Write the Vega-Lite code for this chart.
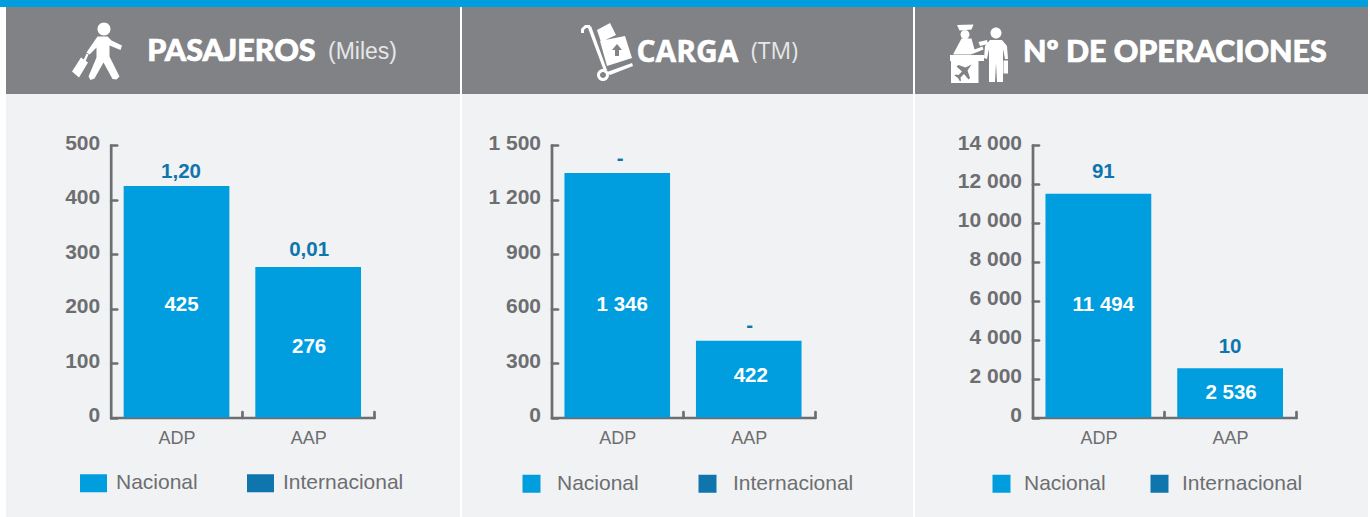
{"$schema":"https://vega.github.io/schema/vega-lite/v6.json","padding":0,"background":"#ffffff","config":{"view":{"stroke":null},"concat":{"spacing":0},"text":{"font":"Liberation Sans"},"axis":{"domainColor":"#6d6e71","tickColor":"#6d6e71","domainWidth":2.7,"tickWidth":2.7,"domainCap":"round","tickCap":"round","labelFont":"Liberation Sans","labelColor":"#6d6e71","title":null,"grid":false}},"resolve":{"scale":{"color":"independent"},"legend":{"color":"independent"}},"vconcat":[{"width":1368,"height":7,"view":{"fill":"#009ddf","stroke":null},"data":{"values":[{}]},"mark":{"type":"rect","fill":"#009ddf"},"encoding":{}},{"spacing":2,"resolve":{"scale":{"color":"independent"},"legend":{"color":"independent"}},"hconcat":[{"width":4,"height":10,"data":{"values":[{}]},"mark":{"type":"rect","opacity":0},"encoding":{}},{"spacing":0,"resolve":{"scale":{"color":"independent"},"legend":{"color":"independent"}},"vconcat":[{"width":454,"height":87,"view":{"fill":"#818285","stroke":null},"data":{"values":[{"elemento":"icono"},{"elemento":"titulo","texto":"PASAJEROS"},{"elemento":"unidad","texto":"(Miles)"}]},"encoding":{"x":{"field":"elemento","type":"nominal","axis":null,"scale":{"type":"point","padding":0,"domain":["icono","titulo","unidad"],"range":[90.5,322]}}},"layer":[{"transform":[{"filter":"datum.elemento==='icono'"}],"mark":{"type":"point","filled":true,"opacity":1,"fill":"#ffffff","strokeWidth":0,"size":4,"shape":"M1,-21.5a6.5,6.5 0 1,1 13,0a6.5,6.5 0 1,1 -13,0ZM1,-14L11,-14L15,-10L25.5,-5L24,-0.5L13,-5L13,6L23,26L20,29L16,28.5L7,12L-2,28L-6,29.5L-8,26L0,7L0,-3L-7,4L-10,2ZM-10,3L-8,4L-12,13L-14,12ZM-24.5,21L-15.5,7L-8.5,12L-17.5,27Z"}},{"transform":[{"filter":"datum.elemento==='titulo'"}],"mark":{"type":"text","align":"left","baseline":"middle","font":"Lato","fontWeight":900,"fontSize":30.5,"color":"#ffffff","stroke":"#ffffff","strokeWidth":0.7,"dx":-65,"dy":1.5},"encoding":{"text":{"field":"texto"}}},{"transform":[{"filter":"datum.elemento==='unidad'"}],"mark":{"type":"text","align":"left","baseline":"middle","font":"Liberation Sans","fontSize":23,"color":"#e6e7e8","dy":1},"encoding":{"text":{"field":"texto"}}}]},{"width":454,"height":423,"view":{"fill":"#f1f2f4","stroke":null},"data":{"values":[{"puerto":"ADP","nacional":425,"internacional":1.2,"etNacional":"425","etInternacional":"1,20"},{"puerto":"AAP","nacional":276,"internacional":0.01,"etNacional":"276","etInternacional":"0,01"}]},"encoding":{"x":{"field":"puerto","type":"nominal","scale":{"domain":["ADP","AAP"],"range":[104.7,368],"paddingInner":0.197,"paddingOuter":0.0985},"axis":{"offset":-99.5,"labelAngle":0,"labelFontSize":18,"labelPadding":18,"labelOffset":-65.8,"tickBand":"center","tickOffset":65.8,"tickSize":-6}}},"resolve":{"scale":{"y":"independent"},"axis":{"y":"independent"}},"layer":[{"mark":{"type":"bar"},"encoding":{"y":{"field":"nacional","type":"quantitative","scale":{"domain":[0,500],"range":[323.5,51],"nice":false},"axis":{"offset":-104.7,"values":[0,100,200,300,400,500],"labelFontSize":21,"labelFontWeight":"bold","labelPadding":17,"labelOffset":-2,"tickSize":-6}},"color":{"datum":"Nacional","scale":{"domain":["Nacional","Internacional"],"range":["#009ddf","#0e76ad"]},"legend":{"title":null,"orient":"none","legendX":74,"legendY":375.5,"direction":"horizontal","padding":0,"symbolType":"M-1,-0.667H1V0.667H-1Z","symbolSize":729,"symbolStrokeWidth":0,"symbolOpacity":1,"labelFont":"Liberation Sans","labelFontSize":21,"labelColor":"#6d6e71","labelOffset":9,"columnPadding":49}}}},{"transform":[{"filter":"datum.puerto==='ADP'"}],"mark":{"type":"text","baseline":"middle","fontWeight":"bold","fontSize":20.5,"color":"#ffffff","dx":5,"dy":3.5},"encoding":{"text":{"field":"etNacional"},"y":{"field":"nacional","type":"quantitative","axis":null,"scale":{"domain":[0,1000],"range":[323.5,51],"nice":false}}}},{"transform":[{"filter":"datum.puerto==='AAP'"}],"mark":{"type":"text","baseline":"middle","fontWeight":"bold","fontSize":20.5,"color":"#ffffff","dx":1,"dy":5},"encoding":{"text":{"field":"etNacional"},"y":{"field":"nacional","type":"quantitative","axis":null,"scale":{"domain":[0,1000],"range":[323.5,51],"nice":false}}}},{"transform":[{"filter":"datum.puerto==='ADP'"}],"mark":{"type":"text","baseline":"middle","fontWeight":"bold","fontSize":20.5,"color":"#0e76ad","dx":4.5,"dy":-14},"encoding":{"text":{"field":"etInternacional"},"y":{"field":"nacional","type":"quantitative","axis":null,"scale":{"domain":[0,500],"range":[323.5,51],"nice":false}}}},{"transform":[{"filter":"datum.puerto==='AAP'"}],"mark":{"type":"text","baseline":"middle","fontWeight":"bold","fontSize":20.5,"color":"#0e76ad","dx":1,"dy":-17},"encoding":{"text":{"field":"etInternacional"},"y":{"field":"nacional","type":"quantitative","axis":null,"scale":{"domain":[0,500],"range":[323.5,51],"nice":false}}}}]}]},{"spacing":0,"resolve":{"scale":{"color":"independent"},"legend":{"color":"independent"}},"vconcat":[{"width":451,"height":87,"view":{"fill":"#818285","stroke":null},"data":{"values":[{"elemento":"icono"},{"elemento":"titulo","texto":"CARGA"},{"elemento":"unidad","texto":"(TM)"}]},"encoding":{"x":{"field":"elemento","type":"nominal","axis":null,"scale":{"type":"point","padding":0,"domain":["icono","titulo","unidad"],"range":[144,289]}}},"layer":[{"transform":[{"filter":"datum.elemento==='icono'"}],"mark":{"type":"point","filled":true,"opacity":1,"fill":"#ffffff","strokeWidth":0,"size":4,"shape":"M-25,-19L-25,-23L-21,-27L-16,-27L-16,-24L-20,-24L-22,-22L-22,-19ZM-18,-24L-15,-26L1,18L-2,19ZM1,20L26,11L27,14L4,23ZM-6,-11L19,-16L26,6L1,14ZM11,-8L6,-2L9,-2L9,4L13,4L13,-2L16,-2ZM-9,-22L4,-29L10,-17L-5,-10ZM-9,23a6,6 0 1,1 12,0a6,6 0 1,1 -12,0ZM-6,23a3,3 0 1,0 6,0a3,3 0 1,0 -6,0Z"},"encoding":{"yOffset":{"value":1.5}}},{"transform":[{"filter":"datum.elemento==='titulo'"}],"mark":{"type":"text","align":"left","baseline":"middle","font":"Open Sans","fontWeight":"bold","fontSize":30,"color":"#ffffff","stroke":"#ffffff","strokeWidth":0.5,"dy":2,"dx":-42},"encoding":{"text":{"field":"texto"}}},{"transform":[{"filter":"datum.elemento==='unidad'"}],"mark":{"type":"text","align":"left","baseline":"middle","font":"Open Sans","fontSize":23,"color":"#e6e7e8","dy":1},"encoding":{"text":{"field":"texto"}}}]},{"width":451,"height":423,"view":{"fill":"#f1f2f4","stroke":null},"data":{"values":[{"puerto":"ADP","nacional":1346,"etNacional":"1 346","etInternacional":"-"},{"puerto":"AAP","nacional":422,"etNacional":"422","etInternacional":"-"}]},"encoding":{"x":{"field":"puerto","type":"nominal","scale":{"domain":["ADP","AAP"],"range":[89.5,352.5],"paddingInner":0.197,"paddingOuter":0.0985},"axis":{"offset":-99.5,"labelAngle":0,"labelFontSize":18,"labelPadding":18,"labelOffset":-65.75,"tickBand":"center","tickOffset":65.75,"tickSize":-6}}},"resolve":{"scale":{"y":"independent"},"axis":{"y":"independent"}},"layer":[{"mark":{"type":"bar"},"encoding":{"y":{"field":"nacional","type":"quantitative","scale":{"domain":[0,1500],"range":[323.5,51],"nice":false},"axis":{"offset":-89.5,"values":[0,300,600,900,1200,1500],"labelExpr":"replace(format(datum.value,',d'),',',' ')","labelFontSize":21,"labelFontWeight":"bold","labelPadding":17,"labelOffset":-2,"tickSize":-6}},"color":{"datum":"Nacional","scale":{"domain":["Nacional","Internacional"],"range":["#009ddf","#0e76ad"]},"legend":{"title":null,"orient":"none","legendX":59,"legendY":379,"direction":"horizontal","padding":0,"symbolType":"square","symbolSize":324,"symbolStrokeWidth":0,"symbolOpacity":1,"labelFont":"Liberation Sans","labelFontSize":21,"labelColor":"#6d6e71","labelOffset":15,"columnPadding":58}}}},{"transform":[{"filter":"datum.puerto==='ADP'"}],"mark":{"type":"text","baseline":"middle","fontWeight":"bold","fontSize":20.5,"color":"#ffffff","dx":5,"dy":10},"encoding":{"text":{"field":"etNacional"},"y":{"field":"nacional","type":"quantitative","axis":null,"scale":{"domain":[0,3000],"range":[323.5,51],"nice":false}}}},{"transform":[{"filter":"datum.puerto==='AAP'"}],"mark":{"type":"text","baseline":"middle","fontWeight":"bold","fontSize":20.5,"color":"#ffffff","dx":2,"dy":-3},"encoding":{"text":{"field":"etNacional"},"y":{"field":"nacional","type":"quantitative","axis":null,"scale":{"domain":[0,3000],"range":[323.5,51],"nice":false}}}},{"transform":[{"filter":"datum.puerto==='ADP'"}],"mark":{"type":"text","baseline":"middle","fontWeight":"bold","fontSize":20.5,"color":"#0e76ad","dx":3,"dy":-14},"encoding":{"text":{"field":"etInternacional"},"y":{"field":"nacional","type":"quantitative","axis":null,"scale":{"domain":[0,1500],"range":[323.5,51],"nice":false}}}},{"transform":[{"filter":"datum.puerto==='AAP'"}],"mark":{"type":"text","baseline":"middle","fontWeight":"bold","fontSize":20.5,"color":"#0e76ad","dx":1,"dy":-15},"encoding":{"text":{"field":"etInternacional"},"y":{"field":"nacional","type":"quantitative","axis":null,"scale":{"domain":[0,1500],"range":[323.5,51],"nice":false}}}}]}]},{"spacing":0,"resolve":{"scale":{"color":"independent"},"legend":{"color":"independent"}},"vconcat":[{"width":453,"height":87,"view":{"fill":"#818285","stroke":null},"data":{"values":[{"elemento":"icono"},{"elemento":"titulo","texto":"Nº DE OPERACIONES"}]},"encoding":{"x":{"field":"elemento","type":"nominal","axis":null,"scale":{"type":"point","padding":0,"domain":["icono","titulo"],"range":[63.5,108]}}},"layer":[{"transform":[{"filter":"datum.elemento==='icono'"}],"mark":{"type":"point","filled":true,"opacity":1,"fill":"#ffffff","strokeWidth":0,"size":4,"shape":"M-28.5,1.5L5.5,1.5L5.5,7.5L0,7.5L0,29.5L-27.5,29.5L-27.5,7.5L-28.5,7.5ZM-7,11L-13,14L-20,11.5L-22,13L-16.5,18L-20,21.5L-23,21L-24,22L-20.5,24.5L-18.5,28L-17.5,27L-18,24L-14.5,20.5L-10,26L-8.5,24.5L-11,17ZM-21.5,-28.5L-5,-29L-7,-24L-19,-23ZM-18,-19a4.5,4.5 0 1,1 9,0a4.5,4.5 0 1,1 -9,0ZM-25.5,1L-17,-15L-7,-15L-4,-4L4,-7L5,-4L-5,0L-8,1ZM0,-11.5L8.5,-13.5L9.5,-9.5L1.5,-7.5ZM12,-20.5a5.5,5.5 0 1,1 11,0a5.5,5.5 0 1,1 -11,0ZM11.5,-13.5L23.5,-13.5L28.5,-7.5L29.5,5.5L26.5,5.5L24.5,-4.5L24.5,28.5L18.5,28.5L17.5,9.5L16.5,28.5L10.5,28.5L10.5,-4.5L8.5,5.5L5.5,4.5L6.5,-7.5ZM25,7L29.5,7L29.5,20L25,20Z"},"encoding":{"yOffset":{"value":3}}},{"transform":[{"filter":"datum.elemento==='titulo'"}],"mark":{"type":"text","align":"left","baseline":"middle","font":"Lato","fontWeight":900,"fontSize":30.4,"color":"#ffffff","stroke":"#ffffff","strokeWidth":0.7,"dy":2.5},"encoding":{"text":{"field":"texto"}}}]},{"width":453,"height":423,"view":{"fill":"#f1f2f4","stroke":null},"data":{"values":[{"puerto":"ADP","nacional":11494,"internacional":91,"etNacional":"11 494","etInternacional":"91"},{"puerto":"AAP","nacional":2536,"internacional":10,"etNacional":"2 536","etInternacional":"10"}]},"encoding":{"x":{"field":"puerto","type":"nominal","scale":{"domain":["ADP","AAP"],"range":[117.5,381],"paddingInner":0.197,"paddingOuter":0.0985},"axis":{"offset":-99.5,"labelAngle":0,"labelFontSize":18,"labelPadding":18,"labelOffset":-65.85,"tickBand":"center","tickOffset":65.85,"tickSize":-6}}},"resolve":{"scale":{"y":"independent"},"axis":{"y":"independent"}},"layer":[{"mark":{"type":"bar"},"encoding":{"y":{"field":"nacional","type":"quantitative","scale":{"domain":[0,14000],"range":[323.5,51],"nice":false},"axis":{"offset":-117.5,"values":[0,2000,4000,6000,8000,10000,12000,14000],"labelExpr":"replace(format(datum.value,',d'),',',' ')","labelFontSize":21,"labelFontWeight":"bold","labelPadding":17,"labelOffset":-2,"tickSize":-6}},"color":{"datum":"Nacional","scale":{"domain":["Nacional","Internacional"],"range":["#009ddf","#0e76ad"]},"legend":{"title":null,"orient":"none","legendX":76,"legendY":379,"direction":"horizontal","padding":0,"symbolType":"square","symbolSize":324,"symbolStrokeWidth":0,"symbolOpacity":1,"labelFont":"Liberation Sans","labelFontSize":21,"labelColor":"#6d6e71","labelOffset":12,"columnPadding":43}}}},{"transform":[{"filter":"datum.puerto==='ADP'"}],"mark":{"type":"text","baseline":"middle","fontWeight":"bold","fontSize":20.5,"color":"#ffffff","dx":5,"dy":-0.6},"encoding":{"text":{"field":"etNacional"},"y":{"field":"nacional","type":"quantitative","axis":null,"scale":{"domain":[0,28000],"range":[323.5,51],"nice":false}}}},{"transform":[{"filter":"datum.puerto==='AAP'"}],"mark":{"type":"text","baseline":"middle","fontWeight":"bold","fontSize":20.5,"color":"#ffffff","dx":1,"dy":0.5},"encoding":{"text":{"field":"etNacional"},"y":{"field":"nacional","type":"quantitative","axis":null,"scale":{"domain":[0,28000],"range":[323.5,51],"nice":false}}}},{"transform":[{"filter":"datum.puerto==='ADP'"}],"mark":{"type":"text","baseline":"middle","fontWeight":"bold","fontSize":20.5,"color":"#0e76ad","dx":5,"dy":-22},"encoding":{"text":{"field":"etInternacional"},"y":{"field":"nacional","type":"quantitative","axis":null,"scale":{"domain":[0,14000],"range":[323.5,51],"nice":false}}}},{"transform":[{"filter":"datum.puerto==='AAP'"}],"mark":{"type":"text","baseline":"middle","fontWeight":"bold","fontSize":20.5,"color":"#0e76ad","dx":0,"dy":-21},"encoding":{"text":{"field":"etInternacional"},"y":{"field":"nacional","type":"quantitative","axis":null,"scale":{"domain":[0,14000],"range":[323.5,51],"nice":false}}}}]}]}]}]}
